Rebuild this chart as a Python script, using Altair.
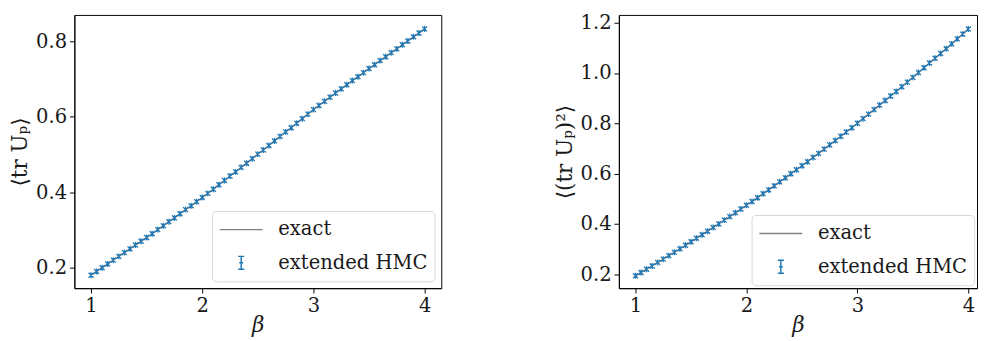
import altair as alt
import pandas as pd

beta = [1.00, 1.05, 1.10, 1.15, 1.20, 1.25, 1.30, 1.35, 1.40, 1.45,
        1.50, 1.55, 1.60, 1.65, 1.70, 1.75, 1.80, 1.85, 1.90, 1.95,
        2.00, 2.05, 2.10, 2.15, 2.20, 2.25, 2.30, 2.35, 2.40, 2.45,
        2.50, 2.55, 2.60, 2.65, 2.70, 2.75, 2.80, 2.85, 2.90, 2.95,
        3.00, 3.05, 3.10, 3.15, 3.20, 3.25, 3.30, 3.35, 3.40, 3.45,
        3.50, 3.55, 3.60, 3.65, 3.70, 3.75, 3.80, 3.85, 3.90, 3.95,
        4.00]

tr_up = [0.180, 0.190, 0.200, 0.210, 0.220, 0.230, 0.240, 0.250, 0.260, 0.270,
         0.280, 0.290, 0.301, 0.311, 0.322, 0.332, 0.343, 0.354, 0.364, 0.375,
         0.386, 0.397, 0.408, 0.420, 0.431, 0.443, 0.454, 0.466, 0.477, 0.489,
         0.501, 0.512, 0.524, 0.536, 0.548, 0.560, 0.571, 0.583, 0.595, 0.607,
         0.619, 0.630, 0.641, 0.652, 0.663, 0.674, 0.685, 0.696, 0.706, 0.717,
         0.728, 0.738, 0.749, 0.759, 0.770, 0.780, 0.791, 0.801, 0.812, 0.822,
         0.833]

tr_up_sq = [0.195, 0.208, 0.221, 0.234, 0.248, 0.261, 0.275, 0.288, 0.302, 0.316,
            0.330, 0.344, 0.358, 0.372, 0.387, 0.401, 0.416, 0.430, 0.445, 0.460,
            0.475, 0.490, 0.505, 0.521, 0.536, 0.552, 0.568, 0.584, 0.600, 0.616,
            0.632, 0.648, 0.665, 0.681, 0.698, 0.715, 0.732, 0.749, 0.766, 0.783,
            0.801, 0.819, 0.837, 0.855, 0.873, 0.891, 0.909, 0.927, 0.946, 0.964,
            0.983, 1.002, 1.021, 1.040, 1.059, 1.078, 1.097, 1.116, 1.136, 1.155,
            1.175]

series_names = ["exact", "extended HMC"]
left_yticks = [0.2, 0.4, 0.6, 0.8]
right_yticks = [0.2, 0.4, 0.6, 0.8, 1.0, 1.2]
xticks = [1, 2, 3, 4]

FONT = "DejaVu Serif"
TXT = "#1a1a1a"
BLUE = "#1f77b4"
GRAY = "#808080"
XMARK = "M-1,-1L1,1M-1,1L1,-1M0,-1.2L0,1.2"
ERRBAR = "M0,-0.3L0,0.3M-0.14,-0.3L0.14,-0.3M-0.14,0.3L0.14,0.3M-0.09,0L0.09,0"


def panel(values, ytitle, yticks, ydomain, xdomain, width, legend_offset):
    df = pd.DataFrame({"beta": beta, "val": values})
    leg_df = pd.DataFrame({"series": series_names})
    x = alt.X("beta:Q", scale=alt.Scale(domain=xdomain, nice=False, zero=False),
              axis=alt.Axis(values=xticks, format="d", title="β", titleFontStyle="italic"))
    y = alt.Y("val:Q", scale=alt.Scale(domain=ydomain, nice=False, zero=False),
              axis=alt.Axis(values=yticks, format=".1f", title=ytitle))
    line = alt.Chart(df).mark_line(color=GRAY, strokeWidth=1.5).encode(x=x, y=y)
    pts = alt.Chart(df).mark_point(shape=XMARK, filled=False, color=BLUE,
                                   size=26, strokeWidth=1.3, opacity=1).encode(x=x, y=y)
    leg = alt.Chart(leg_df).mark_point(filled=False, strokeWidth=1.5).encode(
        color=alt.Color("series:N", scale=alt.Scale(domain=series_names, range=[GRAY, BLUE]),
                        legend=alt.Legend(orient="bottom-right", offset=legend_offset, title=None,
                                          fillColor="white", strokeColor="#d6d6d6",
                                          cornerRadius=4, padding=7,
                                          labelFont=FONT, labelFontSize=20, labelColor=TXT,
                                          symbolSize=1936, clipHeight=24, rowPadding=10,
                                          labelOffset=15, symbolStrokeWidth=1.5)),
        shape=alt.Shape("series:N", scale=alt.Scale(domain=series_names, range=["stroke", ERRBAR])),
        opacity=alt.condition(alt.datum.series == "none", alt.value(1), alt.value(0)),
    )
    return alt.layer(line, pts, leg).properties(width=width, height=280)


left = panel(tr_up, "⟨tr Uₚ⟩", left_yticks, [0.1457, 0.870], [0.85, 4.15], 376, 7)
right = panel(tr_up_sq, "⟨(tr Uₚ)²⟩", right_yticks, [0.1457, 1.231], [0.85, 4.078], 367, 3)

chart = alt.hconcat(left, right, spacing=113).resolve_scale(
    color="independent", shape="independent", opacity="independent"
).resolve_legend(color="independent", shape="independent").properties(
    padding=0
).configure_view(stroke="black", strokeWidth=1).configure_axis(
    grid=False, domainColor="black", tickColor="black", tickSize=5,
    labelFont=FONT, labelFontSize=20, labelColor=TXT, labelPadding=3,
    titleFont=FONT, titleFontSize=22, titleColor=TXT, titleFontWeight="normal",
).configure_axisY(titlePadding=4).configure_axisX(titlePadding=-1)

chart.save("out.html", embed_options={"renderer": "svg", "actions": False})
